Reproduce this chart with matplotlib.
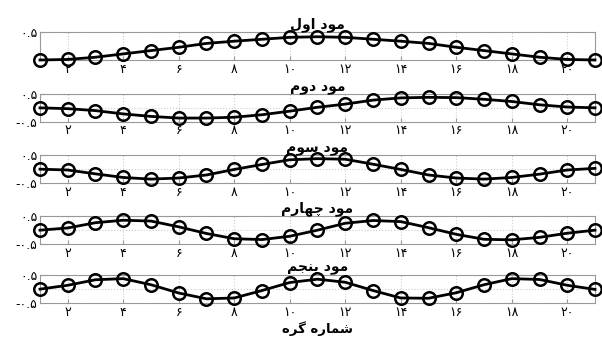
import numpy as np
import matplotlib
matplotlib.use('Agg')
import matplotlib.pyplot as plt

# node numbers and mode shapes
nodes = np.arange(1, 22)
mode1 = [0.0, 0.01, 0.05, 0.11, 0.17, 0.23, 0.30, 0.34, 0.375, 0.41, 0.42,
         0.41, 0.375, 0.34, 0.30, 0.23, 0.17, 0.11, 0.05, 0.01, 0.0]
mode2 = [0.0, -0.03, -0.10, -0.22, -0.31, -0.37, -0.37, -0.34, -0.25, -0.12, 0.02,
         0.135, 0.28, 0.36, 0.38, 0.37, 0.31, 0.23, 0.11, 0.03, 0.0]
mode3 = [0.0, -0.03, -0.17, -0.30, -0.36, -0.32, -0.21, -0.01, 0.17, 0.34, 0.38,
         0.36, 0.18, -0.01, -0.21, -0.32, -0.36, -0.30, -0.18, -0.03, 0.03]
mode4 = [0.0, 0.08, 0.27, 0.36, 0.33, 0.12, -0.12, -0.31, -0.34, -0.22, 0.0,
         0.25, 0.35, 0.31, 0.09, -0.15, -0.33, -0.35, -0.26, -0.11, 0.0]
mode5 = [0.0, 0.14, 0.34, 0.38, 0.16, -0.14, -0.35, -0.32, -0.05, 0.24, 0.36,
         0.25, -0.05, -0.32, -0.33, -0.13, 0.16, 0.38, 0.35, 0.14, -0.01]
modes = [mode1, mode2, mode3, mode4, mode5]

# persian titles, written with presentation forms in visual order
mod = '\uFEA9\uFEEE\uFEE3'
titles = ['\uFEDD\uFEED\uFE8D ' + mod,                 # mode 1
          '\uFEE1\uFEED\uFEA9 ' + mod,                 # mode 2
          '\uFEE1\uFEEE\uFEB3 ' + mod,                 # mode 3
          '\uFEE1\uFEAD\uFE8E\uFEEC\uFB7C ' + mod,     # mode 4
          '\uFEE2\uFEA0\uFEE8\uFB58 ' + mod]           # mode 5
xlab = '\uFEE9\uFEAE\uFB94 \uFEE9\uFEAD\uFE8E\uFEE4\uFEB7'

fa = str.maketrans('0123456789', '\u06F0\u06F1\u06F2\u06F3\u06F4\u06F5\u06F6\u06F7\u06F8\u06F9')
xt = list(range(2, 21, 2))
xtl = [str(v).translate(fa) for v in xt]
yt = [-0.5, 0, 0.5]
ytl = ['-' + '0.5'.translate(fa), '', '0.5'.translate(fa)]
ylims = [(0, 0.5), (-0.5, 0.5), (-0.5, 0.5), (-0.5, 0.5), (-0.5, 0.5)]

plt.rcParams['font.family'] = ['DejaVu Sans']
fig = plt.figure(figsize=(6.02, 3.37), dpi=100)
bots = [0.822, 0.639, 0.457, 0.276, 0.101]
for i in range(5):
    ax = fig.add_axes([0.0664, bots[i], 0.922, 0.082])
    ax.plot(nodes, modes[i], '-', color='black', lw=2, marker='o', ms=9,
            mfc='none', mec='black', mew=1.8, clip_on=False, zorder=3)
    ax.set_xticks(xt)
    ax.set_xticklabels(xtl, fontsize=9)
    ax.set_yticks(yt)
    ax.set_yticklabels(ytl, fontsize=9)
    ax.set_xlim(1, 21)
    ax.set_ylim(*ylims[i])
    ax.tick_params(direction='in', length=3, color='#999999', pad=2)
    ax.grid(True, color='#cccccc', ls=':', lw=0.8)
    for s in ax.spines.values():
        s.set_color('#999999')
        s.set_linewidth(0.8)
    ax.set_title(titles[i], fontsize=10, fontweight='bold', pad=3)

fig.text(0.5275, 1 - 329 / 337, xlab, fontsize=9.5, fontweight='bold',
         ha='center', va='center')

fig.savefig('out.png', dpi=100)
